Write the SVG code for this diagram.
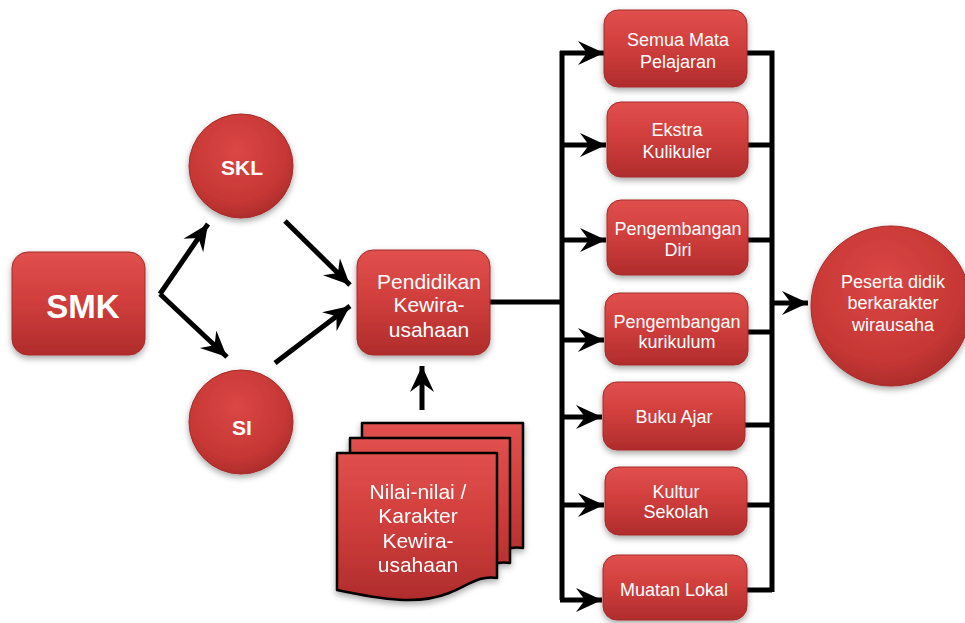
<svg xmlns="http://www.w3.org/2000/svg" width="965" height="623" viewBox="0 0 965 623">
<defs>
  <linearGradient id="gBox" x1="0" y1="0" x2="0" y2="1">
    <stop offset="0" stop-color="#e0504d"/>
    <stop offset="0.45" stop-color="#d13f3d"/>
    <stop offset="1" stop-color="#b02c2c"/>
  </linearGradient>
  <radialGradient id="gCirc" cx="0.45" cy="0.35" r="0.7">
    <stop offset="0" stop-color="#da4745"/>
    <stop offset="0.7" stop-color="#c63734"/>
    <stop offset="1" stop-color="#a82a29"/>
  </radialGradient>
  <filter id="sh" x="-20%" y="-20%" width="140%" height="150%">
    <feDropShadow dx="0" dy="3" stdDeviation="3" flood-color="#000" flood-opacity="0.35"/>
  </filter>
  <marker id="ah" markerUnits="userSpaceOnUse" markerWidth="28" markerHeight="26" refX="26" refY="12" orient="auto">
    <path d="M0,0 L26,12 L0,24 L9,12 Z" fill="#000"/>
  </marker>
</defs>
<style>
  .box{fill:url(#gBox);stroke:#a62a2a;stroke-width:1;filter:url(#sh)}
  .circ{fill:url(#gCirc);stroke:#a62a2a;stroke-width:1;filter:url(#sh)}
  .doc{fill:url(#gBox);stroke:#000;stroke-width:2.5;stroke-linejoin:round}
  .t{font-family:"Liberation Sans",Arial,sans-serif;fill:#fff;text-anchor:middle}
  .s18{font-size:18px}
  .s21{font-size:21px}
  .b{font-weight:bold}
  .ln{fill:none;stroke:#000;stroke-width:5}
  .ar{fill:none;stroke:#000;stroke-width:5;marker-end:url(#ah)}
</style>

<g id="connectors">
  <path class="ar" d="M160,294 L208,224"/>
  <path class="ar" d="M160,294 L227,357"/>
  <path class="ar" d="M285,221 L350,285"/>
  <path class="ar" d="M275,363 L350,306"/>
  <path class="ar" d="M422,410 L422,366"/>
  <path class="ln" d="M490,302 L562,302"/>
  <path class="ln" d="M562,51 L562,600"/>
  <path class="ar" d="M560,53 L604,53"/>
  <path class="ar" d="M562,145 L606,145"/>
  <path class="ar" d="M562,240 L606,240"/>
  <path class="ar" d="M562,340 L604,340"/>
  <path class="ar" d="M562,417 L602,417"/>
  <path class="ar" d="M562,505 L604,505"/>
  <path class="ar" d="M560,600 L602,600"/>
  <path class="ln" d="M747,53 L772,53 L772,592"/>
  <path class="ln" d="M748,145 L772,145"/>
  <path class="ln" d="M748,240 L772,240"/>
  <path class="ln" d="M748,332 L772,332"/>
  <path class="ln" d="M745,425 L772,425"/>
  <path class="ln" d="M747,505 L772,505"/>
  <path class="ln" d="M747,590 L772,590"/>
  <path class="ar" d="M772,303 L808,303"/>
</g>

<g id="smk">
  <rect class="box" x="12" y="252" width="133" height="103" rx="16"/>
  <text class="t b" x="83" y="318" font-size="33">SMK</text>
</g>
<g id="skl">
  <circle class="circ" cx="241" cy="166" r="52"/>
  <text class="t b s21" x="242" y="175">SKL</text>
</g>
<g id="si">
  <circle class="circ" cx="241" cy="422" r="52"/>
  <text class="t b s21" x="242" y="435">SI</text>
</g>
<g id="pendidikan">
  <rect class="box" x="357" y="250" width="133" height="105" rx="16"/>
  <text class="t s21" x="429" y="289">Pendidikan</text>
  <text class="t s21" x="429" y="312">Kewira-</text>
  <text class="t s21" x="429" y="337">usahaan</text>
</g>
<g id="nilai" filter="url(#sh)">
  <path class="doc" d="M362,423 L523,423 L523,548 C505,545 495,555 475,563 C445,575 410,568 362,558 Z"/>
  <path class="doc" d="M350,438 L510,438 L510,563 C492,560 482,570 462,578 C432,590 397,583 350,573 Z"/>
  <path class="doc" d="M337,453 L497,453 L497,578 C479,575 469,585 449,593 C419,605 384,600 337,590 Z"/>
  <text class="t s21" x="418" y="499">Nilai-nilai /</text>
  <text class="t s21" x="418" y="523">Karakter</text>
  <text class="t s21" x="418" y="548">Kewira-</text>
  <text class="t s21" x="418" y="572">usahaan</text>
</g>
<g id="semua">
  <rect class="box" x="604" y="10" width="143" height="77" rx="14"/>
  <text class="t s18" x="678" y="46">Semua Mata</text>
  <text class="t s18" x="678" y="68">Pelajaran</text>
</g>
<g id="ekstra">
  <rect class="box" x="607" y="102" width="141" height="75" rx="14"/>
  <text class="t s18" x="677" y="136">Ekstra</text>
  <text class="t s18" x="677" y="158">Kulikuler</text>
</g>
<g id="diri">
  <rect class="box" x="607" y="200" width="141" height="75" rx="14"/>
  <text class="t s18" x="678" y="235">Pengembangan</text>
  <text class="t s18" x="678" y="256">Diri</text>
</g>
<g id="kurikulum">
  <rect class="box" x="605" y="293" width="143" height="72" rx="14"/>
  <text class="t s18" x="677" y="328">Pengembangan</text>
  <text class="t s18" x="677" y="348">kurikulum</text>
</g>
<g id="buku">
  <rect class="box" x="603" y="382" width="142" height="68" rx="14"/>
  <text class="t s18" x="674" y="423">Buku Ajar</text>
</g>
<g id="kultur">
  <rect class="box" x="605" y="467" width="142" height="68" rx="14"/>
  <text class="t s18" x="676" y="498">Kultur</text>
  <text class="t s18" x="676" y="518">Sekolah</text>
</g>
<g id="muatan">
  <rect class="box" x="603" y="555" width="144" height="65" rx="14"/>
  <text class="t s18" x="674" y="596">Muatan Lokal</text>
</g>
<g id="peserta">
  <circle class="circ" cx="891" cy="306" r="80"/>
  <text class="t s18" x="893" y="288">Peserta didik</text>
  <text class="t s18" x="893" y="309">berkarakter</text>
  <text class="t s18" x="893" y="331">wirausaha</text>
</g>
</svg>
